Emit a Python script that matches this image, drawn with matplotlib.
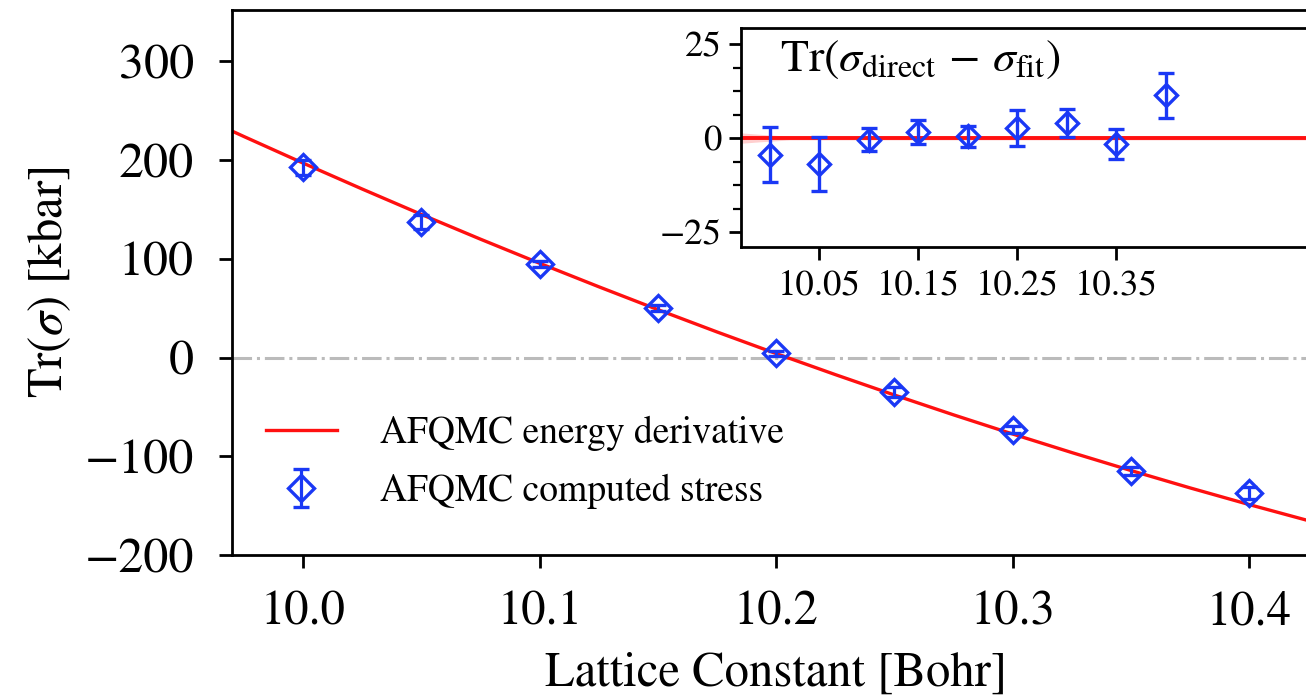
import matplotlib
matplotlib.use('Agg')
import matplotlib.pyplot as plt
from matplotlib.ticker import AutoMinorLocator

plt.rcParams['font.family'] = 'STIXGeneral'
plt.rcParams['mathtext.fontset'] = 'stix'

blue = '#1a38f5'
red = '#ff1010'

# computed stress (direct) and its error bars
lattice = [10.0, 10.05, 10.1, 10.15, 10.2, 10.25, 10.3, 10.35, 10.4]
stress = [192.5, 137.5, 94.5, 50.0, 4.3, -34.8, -73.0, -115.0, -137.0]
stress_err = [7.3, 7.2, 3.0, 3.2, 2.7, 4.7, 3.7, 4.0, 6.0]

# energy-derivative curve
curve_x = [9.97, 9.975, 10.0, 10.025, 10.05, 10.075, 10.1, 10.125, 10.15,
           10.175, 10.2, 10.225, 10.25, 10.275, 10.3, 10.325, 10.35,
           10.375, 10.4, 10.43]
curve_y = [229.4, 223.9, 197.0, 170.7, 145.0, 119.9, 95.5, 71.7, 48.5,
           25.9, 4.0, -17.3, -38.0, -58.1, -77.5, -96.3, -114.5,
           -132.1, -149.0, -168.5]

# residuals direct - fit
resid = [-4.4, -7.0, -0.4, 1.6, 0.45, 2.7, 4.0, -1.7, 11.4]
resid_err = [7.3, 7.2, 3.0, 3.2, 2.7, 4.7, 3.7, 4.0, 6.0]
band_x = [9.97, 9.99, 10.02, 10.6]
band_hw = [1.4, 1.0, 0.5, 0.5]

fig = plt.figure(figsize=(13.06, 6.98), dpi=100)
ax = fig.add_axes([0.1776, 0.2049, 0.8334, 0.7808])

ax.axhline(0, color='#bbbbbb', lw=2.2, ls='-.', zorder=1)
ax.plot(curve_x, curve_y, color=red, lw=2.4, label='AFQMC energy derivative', zorder=2)
ax.errorbar(lattice, stress, yerr=stress_err, fmt='D', color=blue, mfc='none',
            mec=blue, ms=13.5, mew=2.4, elinewidth=2.3, capsize=5.5, capthick=2.3,
            label='AFQMC computed stress', zorder=3)

ax.set_xlim(9.97, 10.43)
ax.set_ylim(-200, 352)
ax.set_xticks([10.0, 10.1, 10.2, 10.3, 10.4])
ax.set_yticks([-200, -100, 0, 100, 200, 300])
ax.tick_params(length=9.5, width=2)
ax.tick_params(axis='y', labelsize=36, pad=18)
ax.tick_params(axis='x', labelsize=35, pad=16)
for s in ax.spines.values():
    s.set_linewidth(2)
ax.set_xlabel('Lattice Constant [Bohr]', fontsize=35, labelpad=12)
ax.set_ylabel(r'Tr($\sigma$) [kbar]', fontsize=35, labelpad=8)

leg = ax.legend(loc='lower left', bbox_to_anchor=(0.0, 0.022), frameon=False,
                fontsize=27, handlelength=1.9, handletextpad=1.15, labelspacing=0.6)

# inset with residuals
ax_in = fig.add_axes([0.5674, 0.6461, 0.4464, 0.3138])
ax_in.fill_between(band_x, [-h for h in band_hw], band_hw, color=red, alpha=0.2, lw=0)
ax_in.axhline(0, color=red, lw=2.8, zorder=2)
ax_in.errorbar(lattice, resid, yerr=resid_err, fmt='D', color=blue, mfc='none',
               mec=blue, ms=11.5, mew=2.4, elinewidth=2.4, capsize=5.5, capthick=2.4,
               zorder=3)
ax_in.set_xlim(9.971, 10.56)
ax_in.set_ylim(-29, 29.3)
ax_in.set_xticks([10.05, 10.15, 10.25, 10.35])
ax_in.set_yticks([-25, 0, 25])
ax_in.yaxis.set_minor_locator(AutoMinorLocator(4))
ax_in.tick_params(labelsize=26.5, length=9, width=2)
ax_in.tick_params(axis='y', pad=5)
ax_in.tick_params(axis='x', pad=7)
ax_in.tick_params(which='minor', length=6, width=1.6)
for s in ax_in.spines.values():
    s.set_linewidth(2)
ax_in.text(0.067, 0.95, r'Tr($\sigma_{\rm direct}\,-\,\sigma_{\rm fit}$)',
           transform=ax_in.transAxes, fontsize=33, va='top', ha='left')

fig.savefig('out.png', dpi=100)
